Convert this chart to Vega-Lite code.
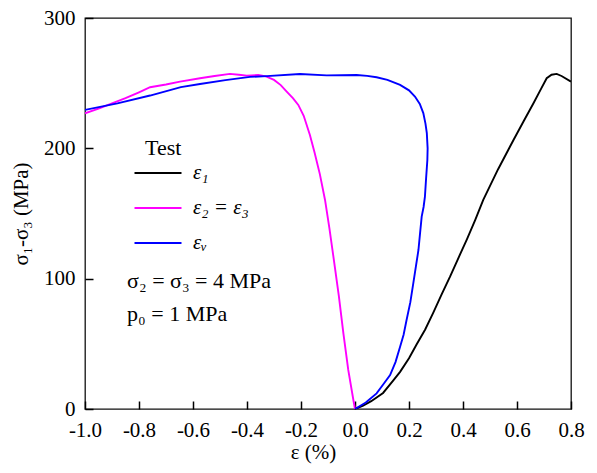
{
  "$schema": "https://vega.github.io/schema/vega-lite/v6.json",
  "width": 486,
  "height": 391,
  "autosize": {"type": "none"},
  "padding": {"left": 85, "top": 18, "right": 26, "bottom": 64},
  "background": "white",
  "config": {
    "font": "Times New Roman",
    "view": {"stroke": "#111111", "strokeWidth": 1.3},
    "axis": {
      "labelFont": "Times New Roman",
      "titleFont": "Times New Roman",
      "labelFontSize": 21,
      "titleFontSize": 21,
      "titleFontWeight": "normal",
      "labelColor": "#000000",
      "titleColor": "#000000",
      "tickColor": "#000000",
      "grid": false
    },
    "style": {
      "guide-label": {"font": "Times New Roman", "fontSize": 21, "fill": "#000000"},
      "guide-title": {"font": "Times New Roman", "fontSize": 21, "fontWeight": "normal", "fill": "#000000"}
    }
  },
  "datasets": {
    "curves": [
      {"s": "ε₁", "i": 1, "x": 0, "y": 0},
      {"s": "ε₁", "i": 2, "x": 0.03, "y": 2.5},
      {"s": "ε₁", "i": 3, "x": 0.06, "y": 6},
      {"s": "ε₁", "i": 4, "x": 0.104, "y": 12.3},
      {"s": "ε₁", "i": 5, "x": 0.142, "y": 22},
      {"s": "ε₁", "i": 6, "x": 0.167, "y": 28.5},
      {"s": "ε₁", "i": 7, "x": 0.2, "y": 39},
      {"s": "ε₁", "i": 8, "x": 0.228, "y": 49.5},
      {"s": "ε₁", "i": 9, "x": 0.26, "y": 61},
      {"s": "ε₁", "i": 10, "x": 0.29, "y": 74},
      {"s": "ε₁", "i": 11, "x": 0.32, "y": 87.5},
      {"s": "ε₁", "i": 12, "x": 0.352, "y": 101.5},
      {"s": "ε₁", "i": 13, "x": 0.38, "y": 114.5},
      {"s": "ε₁", "i": 14, "x": 0.414, "y": 130},
      {"s": "ε₁", "i": 15, "x": 0.445, "y": 145},
      {"s": "ε₁", "i": 16, "x": 0.475, "y": 160.4},
      {"s": "ε₁", "i": 17, "x": 0.53, "y": 184},
      {"s": "ε₁", "i": 18, "x": 0.587, "y": 206.4},
      {"s": "ε₁", "i": 19, "x": 0.625, "y": 221},
      {"s": "ε₁", "i": 20, "x": 0.661, "y": 234.6},
      {"s": "ε₁", "i": 21, "x": 0.69, "y": 246},
      {"s": "ε₁", "i": 22, "x": 0.71, "y": 253.8},
      {"s": "ε₁", "i": 23, "x": 0.728, "y": 256.5},
      {"s": "ε₁", "i": 24, "x": 0.747, "y": 257.1},
      {"s": "ε₁", "i": 25, "x": 0.765, "y": 255.5},
      {"s": "ε₁", "i": 26, "x": 0.8, "y": 251.2},

      {"s": "ε₂ = ε₃", "i": 1, "x": -1.0, "y": 226.9},
      {"s": "ε₂ = ε₃", "i": 2, "x": -0.95, "y": 230.5},
      {"s": "ε₂ = ε₃", "i": 3, "x": -0.9, "y": 234.5},
      {"s": "ε₂ = ε₃", "i": 4, "x": -0.85, "y": 238.5},
      {"s": "ε₂ = ε₃", "i": 5, "x": -0.8, "y": 243},
      {"s": "ε₂ = ε₃", "i": 6, "x": -0.759, "y": 246.9},
      {"s": "ε₂ = ε₃", "i": 7, "x": -0.7, "y": 249},
      {"s": "ε₂ = ε₃", "i": 8, "x": -0.648, "y": 251.2},
      {"s": "ε₂ = ε₃", "i": 9, "x": -0.574, "y": 253.8},
      {"s": "ε₂ = ε₃", "i": 10, "x": -0.52, "y": 255.5},
      {"s": "ε₂ = ε₃", "i": 11, "x": -0.463, "y": 257.1},
      {"s": "ε₂ = ε₃", "i": 12, "x": -0.43, "y": 256.5},
      {"s": "ε₂ = ε₃", "i": 13, "x": -0.401, "y": 255.8},
      {"s": "ε₂ = ε₃", "i": 14, "x": -0.358, "y": 256.3},
      {"s": "ε₂ = ε₃", "i": 15, "x": -0.33, "y": 255.2},
      {"s": "ε₂ = ε₃", "i": 16, "x": -0.3, "y": 252.5},
      {"s": "ε₂ = ε₃", "i": 17, "x": -0.275, "y": 248.5},
      {"s": "ε₂ = ε₃", "i": 18, "x": -0.253, "y": 243.5},
      {"s": "ε₂ = ε₃", "i": 19, "x": -0.23, "y": 238.5},
      {"s": "ε₂ = ε₃", "i": 20, "x": -0.21, "y": 233.3},
      {"s": "ε₂ = ε₃", "i": 21, "x": -0.19, "y": 225},
      {"s": "ε₂ = ε₃", "i": 22, "x": -0.167, "y": 210.3},
      {"s": "ε₂ = ε₃", "i": 23, "x": -0.15, "y": 197},
      {"s": "ε₂ = ε₃", "i": 24, "x": -0.13, "y": 180},
      {"s": "ε₂ = ε₃", "i": 25, "x": -0.111, "y": 160.4},
      {"s": "ε₂ = ε₃", "i": 26, "x": -0.095, "y": 139},
      {"s": "ε₂ = ε₃", "i": 27, "x": -0.08, "y": 116.9},
      {"s": "ε₂ = ε₃", "i": 28, "x": -0.06, "y": 87},
      {"s": "ε₂ = ε₃", "i": 29, "x": -0.043, "y": 58},
      {"s": "ε₂ = ε₃", "i": 30, "x": -0.025, "y": 30},
      {"s": "ε₂ = ε₃", "i": 31, "x": -0.006, "y": 6.9},
      {"s": "ε₂ = ε₃", "i": 32, "x": 0, "y": 0},

      {"s": "εᵥ", "i": 1, "x": -1.0, "y": 229.5},
      {"s": "εᵥ", "i": 2, "x": -0.88, "y": 234.5},
      {"s": "εᵥ", "i": 3, "x": -0.759, "y": 240.5},
      {"s": "εᵥ", "i": 4, "x": -0.645, "y": 247},
      {"s": "εᵥ", "i": 5, "x": -0.574, "y": 249.4},
      {"s": "εᵥ", "i": 6, "x": -0.48, "y": 252.3},
      {"s": "εᵥ", "i": 7, "x": -0.389, "y": 254.8},
      {"s": "εᵥ", "i": 8, "x": -0.327, "y": 255.4},
      {"s": "εᵥ", "i": 9, "x": -0.204, "y": 257},
      {"s": "εᵥ", "i": 10, "x": -0.105, "y": 256},
      {"s": "εᵥ", "i": 11, "x": 0.006, "y": 256.3},
      {"s": "εᵥ", "i": 12, "x": 0.045, "y": 255.6},
      {"s": "εᵥ", "i": 13, "x": 0.08, "y": 254.5},
      {"s": "εᵥ", "i": 14, "x": 0.12, "y": 252.5},
      {"s": "εᵥ", "i": 15, "x": 0.167, "y": 248.7},
      {"s": "εᵥ", "i": 16, "x": 0.2, "y": 244.5},
      {"s": "εᵥ", "i": 17, "x": 0.222, "y": 239.7},
      {"s": "εᵥ", "i": 18, "x": 0.24, "y": 234},
      {"s": "εᵥ", "i": 19, "x": 0.253, "y": 227},
      {"s": "εᵥ", "i": 20, "x": 0.261, "y": 219},
      {"s": "εᵥ", "i": 21, "x": 0.266, "y": 211.6},
      {"s": "εᵥ", "i": 22, "x": 0.269, "y": 200},
      {"s": "εᵥ", "i": 23, "x": 0.268, "y": 191},
      {"s": "εᵥ", "i": 24, "x": 0.263, "y": 176},
      {"s": "εᵥ", "i": 25, "x": 0.259, "y": 163},
      {"s": "εᵥ", "i": 26, "x": 0.254, "y": 155},
      {"s": "εᵥ", "i": 27, "x": 0.247, "y": 147.6},
      {"s": "εᵥ", "i": 28, "x": 0.241, "y": 135},
      {"s": "εᵥ", "i": 29, "x": 0.235, "y": 122},
      {"s": "εᵥ", "i": 30, "x": 0.226, "y": 110},
      {"s": "εᵥ", "i": 31, "x": 0.216, "y": 96.5},
      {"s": "εᵥ", "i": 32, "x": 0.205, "y": 82},
      {"s": "εᵥ", "i": 33, "x": 0.191, "y": 68.3},
      {"s": "εᵥ", "i": 34, "x": 0.18, "y": 57},
      {"s": "εᵥ", "i": 35, "x": 0.167, "y": 47.8},
      {"s": "εᵥ", "i": 36, "x": 0.15, "y": 36},
      {"s": "εᵥ", "i": 37, "x": 0.13, "y": 26},
      {"s": "εᵥ", "i": 38, "x": 0.105, "y": 19},
      {"s": "εᵥ", "i": 39, "x": 0.08, "y": 12},
      {"s": "εᵥ", "i": 40, "x": 0.04, "y": 5},
      {"s": "εᵥ", "i": 41, "x": 0, "y": 0}
    ],
    "notes": [
      {"t": "σ₂ = σ₃ = 4 MPa", "x": -0.844, "y": 92.5},
      {"t": "p₀ = 1 MPa", "x": -0.844, "y": 67.5}
    ]
  },
  "encoding": {
    "x": {
      "field": "x",
      "type": "quantitative",
      "scale": {"domain": [-1.0, 0.8], "nice": false, "zero": false},
      "axis": {
        "title": "ε (%)",
        "values": [-1.0, -0.8, -0.6, -0.4, -0.2, 0.0, 0.2, 0.4, 0.6, 0.8],
        "labelExpr": "replace(format(datum.value, '.1f'), '−', '-')",
        "grid": false,
        "domain": false,
        "offset": -8,
        "ticks": true,
        "tickColor": "#000000",
        "tickWidth": 1.5,
        "tickSize": 8,
        "labelFont": "Times New Roman",
        "labelFontSize": 21,
        "labelColor": "#000000",
        "labelPadding": 10,
        "labelFlush": false,
        "titleFont": "Times New Roman",
        "titleFontSize": 21,
        "titleFontWeight": "normal",
        "titleColor": "#000000",
        "titleX": 228,
        "titleY": 57,
        "titleBaseline": "alphabetic"
      }
    },
    "y": {
      "field": "y",
      "type": "quantitative",
      "scale": {"domain": [0, 300], "nice": false},
      "axis": {
        "title": "σ₁-σ₃ (MPa)",
        "values": [0, 100, 200, 300],
        "grid": false,
        "domain": false,
        "offset": -8,
        "ticks": true,
        "tickColor": "#000000",
        "tickWidth": 1.5,
        "tickSize": 8,
        "labelFont": "Times New Roman",
        "labelFontSize": 21,
        "labelColor": "#000000",
        "labelPadding": 10,
        "labelFlush": false,
        "titleFont": "Times New Roman",
        "titleFontSize": 21,
        "titleFontWeight": "normal",
        "titleColor": "#000000",
        "titlePadding": 12
      }
    }
  },
  "layer": [
    {
      "data": {"name": "curves"},
      "mark": {"type": "line", "strokeWidth": 1.9, "clip": true},
      "encoding": {
        "color": {
          "field": "s",
          "type": "nominal",
          "scale": {
            "domain": ["ε₁", "ε₂ = ε₃", "εᵥ"],
            "range": ["#000000", "#ff00ff", "#0000ff"]
          },
          "legend": {
            "title": "Test",
            "orient": "none",
            "legendX": 60,
            "legendY": 120,
            "titleFont": "Liberation Serif",
            "titleFontSize": 22,
            "titleFontWeight": "normal",
            "titleColor": "#000000",
            "titlePadding": 0,
            "labelFont": "Liberation Serif, DejaVu Serif",
            "labelFontSize": 21,
            "labelFontStyle": "italic",
            "labelColor": "#000000",
            "labelOffset": 22,
            "symbolType": "M-2,0L2,0",
            "symbolSize": 552,
            "symbolStrokeWidth": 1.8,
            "rowPadding": 12
          }
        },
        "order": {"field": "i", "type": "quantitative"}
      }
    },
    {
      "data": {"name": "notes"},
      "mark": {"type": "text", "align": "left", "baseline": "alphabetic", "font": "Liberation Serif", "fontSize": 22, "color": "#000000"},
      "encoding": {
        "text": {"field": "t"}
      }
    }
  ]
}
